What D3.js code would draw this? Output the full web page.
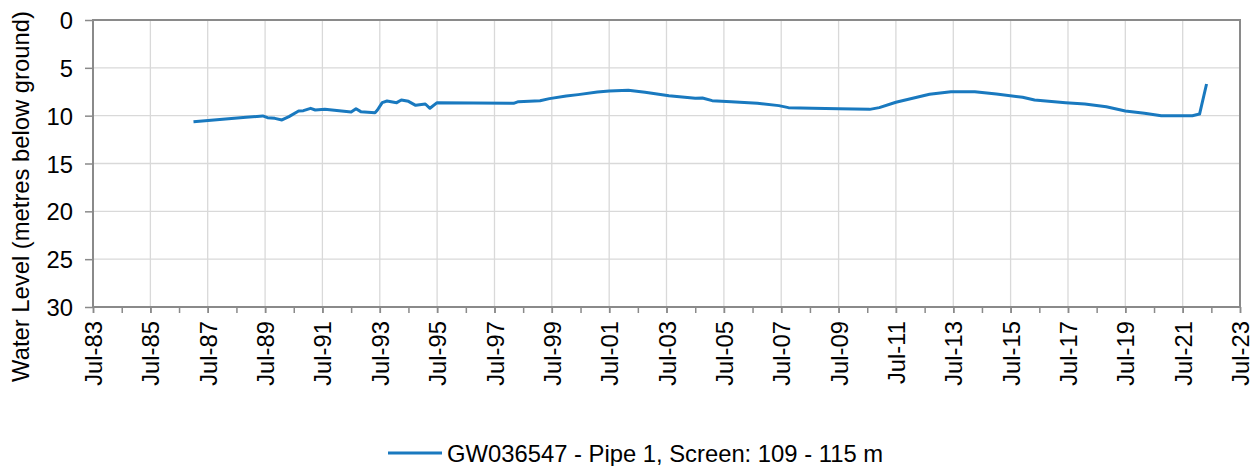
<!DOCTYPE html>
<html>
<head>
<meta charset="utf-8">
<script src="https://cdn.jsdelivr.net/npm/d3@7"></script>
<style>
  body { margin: 0; background: #fff; }
  text { font-family: "Liberation Sans", Arial, sans-serif; fill: #000; }
</style>
</head>
<body>
<div id="chart"></div>
<script>
// water level readings (date, metres below ground)
const dates = [
  '1987-01', '1988-11', '1989-06', '1989-08', '1989-11', '1990-02', '1990-05', '1990-09',
  '1990-11', '1991-02', '1991-04', '1991-08', '1992-07', '1992-09', '1992-11', '1993-05',
  '1993-06', '1993-08', '1993-10', '1994-02', '1994-04', '1994-07', '1994-10', '1995-02',
  '1995-04', '1995-07', '1998-03', '1998-05', '1999-02', '1999-06', '2000-01', '2000-06',
  '2001-02', '2001-07', '2002-03', '2002-10', '2003-08', '2004-07', '2004-10', '2005-02',
  '2005-10', '2006-09', '2007-06', '2007-10', '2008-08', '2009-07', '2010-08', '2010-12',
  '2011-07', '2012-09', '2013-06', '2014-04', '2015-01', '2015-12', '2016-05', '2017-06',
  '2018-02', '2018-11', '2019-07', '2020-03', '2020-10', '2021-11', '2022-02', '2022-05'
];
const levels = [
  10.63, 10.17, 10.03, 10.21, 10.28, 10.45, 10.10, 9.51,
  9.48, 9.23, 9.41, 9.34, 9.62, 9.27, 9.58, 9.69,
  9.41, 8.64, 8.47, 8.64, 8.36, 8.50, 8.92, 8.78,
  9.23, 8.64, 8.71, 8.54, 8.44, 8.22, 7.94, 7.80,
  7.53, 7.42, 7.35, 7.56, 7.91, 8.18, 8.15, 8.43,
  8.54, 8.71, 8.95, 9.16, 9.23, 9.27, 9.34, 9.16,
  8.60, 7.77, 7.49, 7.49, 7.74, 8.08, 8.36, 8.64,
  8.78, 9.06, 9.51, 9.75, 10.00, 10.00, 9.83, 6.69
];
const seriesName = 'GW036547 - Pipe 1, Screen: 109 - 115 m';
const yTicks = [0, 5, 10, 15, 20, 25, 30];
const xStart = '1983-07-01', xEnd = '2023-07-01';

const W = 1258, H = 466;
const margin = {left: 93, right: 18, top: 20, bottom: 159};
const w = W - margin.left - margin.right;
const h = H - margin.top - margin.bottom;
const fontSize = 23.8;
const lineColor = '#1979bf';
const axisColor = '#8a8a8a';
const gridColor = '#d9d9d9';

const parse = d3.timeParse('%Y-%m');
const data = dates.map((d, i) => ({date: parse(d), value: levels[i]}));

const x = d3.scaleTime()
  .domain([new Date(xStart), new Date(xEnd)])
  .range([0, w]);
const y = d3.scaleLinear().domain([0, 30]).range([0, h]);

// ticks at July each year, labels every 2nd year
const yearTicks = d3.range(1983, 2024).map(yr => new Date(yr, 6, 1));
const majorTicks = yearTicks.filter(d => (d.getFullYear() - 1983) % 2 === 0);

const svg = d3.select('#chart')
  .append('svg')
  .attr('width', W)
  .attr('height', H);

const g = svg.append('g').attr('transform', `translate(${margin.left}, ${margin.top})`);

// gridlines
g.append('g').selectAll('line')
  .data(yTicks)
  .enter().append('line')
  .attr('x1', 0).attr('x2', w)
  .attr('y1', d => y(d)).attr('y2', d => y(d))
  .style('stroke', gridColor).style('stroke-width', 1.3);

g.append('g').selectAll('line')
  .data(majorTicks)
  .enter().append('line')
  .attr('x1', d => x(d)).attr('x2', d => x(d))
  .attr('y1', 0).attr('y2', h)
  .style('stroke', gridColor).style('stroke-width', 1.3);

// y axis
const yAxis = g.append('g')
  .call(d3.axisLeft(y).tickValues(yTicks).tickSize(8).tickPadding(12));
yAxis.selectAll('text').style('font-size', fontSize + 'px').attr('dy', '0.36em');

// x axis: minor ticks every year, labels every 2 years
const xMinor = g.append('g')
  .attr('transform', `translate(0, ${h})`)
  .call(d3.axisBottom(x).tickValues(yearTicks).tickSize(6).tickFormat(''));

const xAxis = g.append('g')
  .attr('transform', `translate(0, ${h})`)
  .call(d3.axisBottom(x).tickValues(majorTicks).tickSize(6).tickFormat(d3.timeFormat('Jul-%y')));
xAxis.selectAll('text')
  .style('font-size', fontSize + 'px')
  .style('text-anchor', 'end')
  .attr('transform', 'rotate(-90)')
  .attr('x', -14)
  .attr('y', 0)
  .attr('dy', '0.36em');

[yAxis, xMinor, xAxis].forEach(a => {
  a.select('.domain').remove();
  a.selectAll('line').style('stroke', axisColor).style('stroke-width', 1.5);
});

// plot border
g.append('rect')
  .attr('x', 0).attr('y', 0)
  .attr('width', w).attr('height', h)
  .style('fill', 'none')
  .style('stroke', axisColor)
  .style('stroke-width', 2);

// series line
const line = d3.line()
  .x(d => x(d.date))
  .y(d => y(d.value));

g.append('path')
  .datum(data)
  .attr('d', line)
  .style('fill', 'none')
  .style('stroke', lineColor)
  .style('stroke-width', 3)
  .style('stroke-linejoin', 'round');

// y axis title
svg.append('text')
  .attr('transform', `translate(29, ${margin.top + h / 2 + 33}) rotate(-90)`)
  .style('text-anchor', 'middle')
  .style('font-size', fontSize + 'px')
  .text('Water Level (metres below ground)');

// legend
const legend = svg.append('g').attr('transform', 'translate(388, 453)');
legend.append('line')
  .attr('x1', 0).attr('x2', 54)
  .style('stroke', lineColor)
  .style('stroke-width', 3);
legend.append('text')
  .attr('x', 59)
  .attr('dy', '0.36em')
  .style('font-size', fontSize + 'px')
  .text(seriesName);
</script>
</body>
</html>
